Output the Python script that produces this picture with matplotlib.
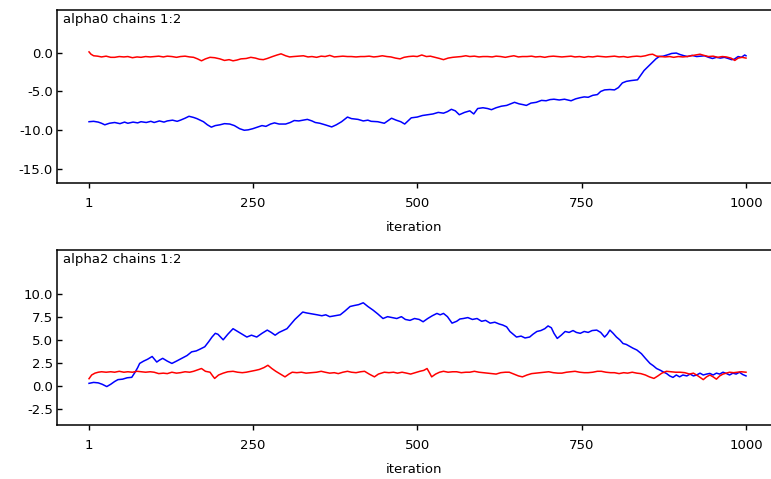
import matplotlib
matplotlib.use("Agg")
import matplotlib.pyplot as plt
from matplotlib.ticker import FormatStrFormatter

# ---------------- data ----------------
x_ticks = [1, 250, 500, 750, 1000]
a0_yticks = [-15.0, -10.0, -5.0, 0.0]
a2_yticks = [-2.5, 0.0, 2.5, 5.0, 7.5, 10.0]

a0_blue_iter = [1, 8, 15, 20, 25, 32, 40, 48, 55, 60, 68, 75, 80, 88, 95, 100, 108, 115, 120, 128,
                135, 140, 147, 153, 160, 165, 170, 175, 181, 187, 193, 200, 207, 215, 222, 230, 237,
                243, 250, 257, 264, 270, 277, 283, 290, 300, 307, 313, 320, 327, 333, 340, 345, 352,
                360, 370, 377, 385, 394, 400, 410, 418, 425, 430, 440, 450, 455, 461, 468, 475, 481,
                486, 491, 500, 508, 516, 524, 532, 540, 546, 552, 558, 564, 572, 580, 586, 592, 600,
                607, 613, 620, 628, 636, 642, 648, 655, 661, 666, 673, 681, 689, 696, 702, 708, 716,
                724, 734, 741, 748, 754, 760, 767, 774, 779, 785, 793, 800, 806, 812, 818, 825, 835,
                840, 845, 851, 858, 863, 868, 874, 880, 887, 894, 900, 906, 911, 918, 925, 931, 937,
                943, 949, 955, 961, 967, 973, 978, 982, 988, 993, 998, 1000]
a0_blue = [-8.9, -8.85, -8.95, -9.1, -9.3, -9.1, -9.0, -9.15, -8.95, -9.1, -8.95, -9.05, -8.9, -9.0,
           -8.85, -9.0, -8.8, -8.95, -8.8, -8.7, -8.85, -8.7, -8.45, -8.2, -8.35, -8.5, -8.7, -8.9,
           -9.3, -9.6, -9.4, -9.3, -9.15, -9.2, -9.4, -9.8, -10.0, -9.95, -9.8, -9.6, -9.4, -9.5,
           -9.2, -9.05, -9.2, -9.2, -9.0, -8.75, -8.8, -8.7, -8.6, -8.8, -9.0, -9.1, -9.3, -9.57,
           -9.3, -8.9, -8.3, -8.5, -8.6, -8.8, -8.7, -8.85, -8.9, -9.1, -8.8, -8.45, -8.7, -8.9,
           -9.2, -8.8, -8.4, -8.3, -8.1, -8.0, -7.9, -7.7, -7.8, -7.6, -7.3, -7.5, -8.0, -7.7, -7.5,
           -7.9, -7.2, -7.1, -7.2, -7.35, -7.1, -6.9, -6.8, -6.6, -6.4, -6.6, -6.7, -6.8, -6.5,
           -6.4, -6.15, -6.2, -6.05, -6.0, -6.1, -6.0, -6.2, -5.95, -5.8, -5.7, -5.75, -5.5, -5.4,
           -5.0, -4.8, -4.75, -4.8, -4.5, -3.9, -3.7, -3.6, -3.5, -2.9, -2.3, -1.8, -1.2, -0.8,
           -0.5, -0.45, -0.3, -0.1, -0.05, -0.25, -0.4, -0.5, -0.35, -0.5, -0.45, -0.4, -0.6,
           -0.75, -0.6, -0.7, -0.6, -0.75, -0.9, -0.85, -0.5, -0.6, -0.3, -0.4]

a0_red_iter = [1, 4, 8, 14, 20, 27, 34, 40, 47, 54, 60, 67, 74, 80, 87, 94, 100, 107, 114, 120, 127,
               134, 140, 147, 154, 160, 166, 172, 178, 185, 192, 200, 207, 214, 220, 226, 232, 240,
               247, 254, 260, 266, 272, 280, 287, 293, 300, 306, 312, 320, 327, 334, 340, 347, 354,
               360, 367, 374, 380, 387, 394, 400, 407, 414, 420, 427, 434, 440, 447, 454, 460, 467,
               474, 480, 487, 494, 500, 507, 514, 520, 527, 534, 540, 547, 554, 560, 567, 574, 580,
               587, 594, 600, 607, 614, 620, 627, 634, 640, 647, 654, 660, 667, 674, 680, 687, 694,
               700, 707, 714, 720, 727, 734, 740, 747, 754, 760, 767, 774, 780, 787, 794, 800, 807,
               814, 820, 827, 834, 840, 847, 853, 858, 864, 870, 877, 884, 890, 897, 904, 910, 917,
               924, 930, 936, 943, 950, 957, 964, 970, 977, 983, 988, 994, 1000]
a0_red = [0.1, -0.2, -0.4, -0.45, -0.55, -0.45, -0.6, -0.6, -0.5, -0.55, -0.5, -0.65, -0.55, -0.6,
          -0.5, -0.55, -0.5, -0.45, -0.55, -0.45, -0.5, -0.6, -0.5, -0.45, -0.55, -0.6, -0.8, -1.05,
          -0.8, -0.6, -0.65, -0.8, -1.0, -0.9, -1.05, -0.95, -0.8, -0.75, -0.6, -0.7, -0.85, -0.9,
          -0.75, -0.5, -0.3, -0.15, -0.4, -0.55, -0.5, -0.45, -0.4, -0.55, -0.5, -0.6, -0.45, -0.5,
          -0.35, -0.55, -0.5, -0.45, -0.5, -0.5, -0.55, -0.5, -0.5, -0.45, -0.55, -0.5, -0.4, -0.5,
          -0.55, -0.7, -0.8, -0.6, -0.5, -0.45, -0.5, -0.3, -0.5, -0.45, -0.6, -0.75, -0.9, -0.7,
          -0.6, -0.55, -0.5, -0.4, -0.5, -0.45, -0.55, -0.5, -0.5, -0.55, -0.45, -0.5, -0.6, -0.5,
          -0.4, -0.55, -0.5, -0.5, -0.45, -0.55, -0.5, -0.6, -0.5, -0.45, -0.5, -0.55, -0.5, -0.45,
          -0.55, -0.5, -0.6, -0.5, -0.55, -0.45, -0.5, -0.55, -0.5, -0.45, -0.55, -0.5, -0.6, -0.5,
          -0.45, -0.5, -0.4, -0.25, -0.2, -0.45, -0.5, -0.55, -0.5, -0.6, -0.5, -0.55, -0.5, -0.4,
          -0.3, -0.2, -0.35, -0.5, -0.45, -0.6, -0.5, -0.55, -0.7, -1.0, -0.7, -0.6, -0.7]

a2_blue_iter = [1, 8, 15, 21, 28, 34, 40, 45, 52, 59, 66, 71, 75, 78, 84, 90, 97, 104, 108, 113, 120,
                127, 134, 142, 150, 157, 164, 170, 177, 183, 188, 193, 197, 201, 205, 212, 220, 227,
                234, 241, 248, 256, 264, 272, 278, 284, 290, 296, 302, 308, 314, 320, 326, 332, 340,
                348, 355, 361, 367, 375, 383, 390, 398, 404, 411, 418, 425, 433, 440, 448, 455, 462,
                469, 476, 482, 489, 496, 503, 509, 516, 523, 530, 535, 540, 546, 553, 560, 565, 570,
                577, 584, 591, 598, 604, 611, 618, 625, 630, 636, 641, 646, 651, 658, 664, 671, 676,
                682, 688, 694, 699, 704, 708, 713, 719, 725, 731, 737, 742, 748, 754, 760, 766, 773,
                779, 785, 789, 793, 798, 803, 808, 813, 818, 823, 828, 834, 841, 847, 854, 859, 864,
                870, 875, 879, 884, 889, 894, 899, 904, 910, 915, 920, 925, 930, 935, 940, 945, 950,
                955, 960, 965, 970, 975, 980, 985, 990, 995, 1000]
a2_blue = [0.3, 0.4, 0.35, 0.2, -0.05, 0.2, 0.5, 0.7, 0.75, 0.9, 0.95, 1.5, 2.0, 2.45, 2.7, 2.9, 3.2,
           2.6, 2.8, 3.0, 2.7, 2.45, 2.7, 3.0, 3.3, 3.7, 3.8, 4.0, 4.25, 4.8, 5.3, 5.7, 5.6, 5.3, 5.0,
           5.6, 6.2, 5.9, 5.6, 5.3, 5.5, 5.3, 5.7, 6.05, 5.8, 5.5, 5.8, 6.0, 6.2, 6.7, 7.2, 7.6, 8.0,
           7.9, 7.8, 7.7, 7.6, 7.7, 7.5, 7.6, 7.7, 8.1, 8.6, 8.7, 8.8, 9.0, 8.6, 8.2, 7.8, 7.3, 7.5,
           7.4, 7.3, 7.5, 7.2, 7.1, 7.3, 7.2, 6.95, 7.3, 7.6, 7.85, 7.7, 7.85, 7.5, 6.8, 7.0, 7.25,
           7.3, 7.4, 7.2, 7.3, 7.0, 7.1, 6.8, 6.9, 6.7, 6.6, 6.4, 5.9, 5.6, 5.3, 5.4, 5.2, 5.3, 5.6,
           5.9, 6.0, 6.2, 6.5, 6.3, 5.7, 5.15, 5.5, 5.9, 5.8, 6.0, 5.8, 5.7, 5.9, 5.8, 6.0, 6.05,
           5.8, 5.3, 5.6, 6.05, 5.7, 5.3, 5.0, 4.6, 4.5, 4.3, 4.1, 3.9, 3.5, 3.0, 2.45, 2.2, 1.9,
           1.7, 1.5, 1.37, 1.1, 0.94, 1.2, 1.0, 1.2, 1.1, 1.3, 1.1, 1.2, 1.4, 1.2, 1.3, 1.37, 1.2,
           1.4, 1.3, 1.5, 1.37, 1.2, 1.4, 1.3, 1.5, 1.25, 1.1]

a2_red_iter = [1, 5, 10, 15, 20, 27, 34, 40, 47, 54, 60, 67, 74, 80, 87, 94, 100, 107, 114, 120, 127,
               134, 140, 147, 154, 160, 166, 172, 178, 185, 189, 192, 198, 205, 212, 220, 227, 234,
               240, 247, 254, 260, 267, 273, 279, 285, 292, 299, 305, 310, 317, 324, 331, 340, 347,
               354, 360, 367, 374, 380, 387, 394, 400, 407, 414, 420, 427, 435, 441, 450, 457, 464,
               470, 477, 484, 490, 497, 504, 510, 515, 519, 522, 528, 534, 540, 547, 554, 560, 567,
               574, 580, 587, 594, 600, 607, 614, 620, 627, 634, 640, 647, 654, 660, 667, 674, 680,
               687, 694, 700, 707, 714, 720, 727, 734, 740, 747, 754, 760, 767, 774, 780, 787, 794,
               800, 807, 814, 820, 827, 834, 840, 847, 853, 860, 866, 872, 879, 886, 893, 900, 907,
               914, 920, 927, 935, 940, 945, 950, 955, 960, 965, 970, 975, 981, 987, 993, 1000]
a2_red = [0.8, 1.2, 1.4, 1.5, 1.55, 1.5, 1.55, 1.5, 1.6, 1.5, 1.55, 1.5, 1.6, 1.55, 1.5, 1.55, 1.5,
          1.35, 1.4, 1.35, 1.5, 1.4, 1.45, 1.55, 1.5, 1.6, 1.75, 1.9, 1.6, 1.5, 1.1, 0.83, 1.2, 1.4,
          1.55, 1.6, 1.5, 1.45, 1.5, 1.6, 1.7, 1.8, 2.0, 2.25, 1.9, 1.6, 1.3, 1.0, 1.3, 1.5, 1.45,
          1.5, 1.4, 1.45, 1.5, 1.6, 1.5, 1.4, 1.45, 1.35, 1.5, 1.6, 1.5, 1.45, 1.55, 1.6, 1.3, 1.0,
          1.3, 1.5, 1.45, 1.5, 1.4, 1.5, 1.4, 1.3, 1.45, 1.6, 1.7, 1.9, 1.4, 1.0, 1.3, 1.5, 1.6,
          1.5, 1.55, 1.55, 1.45, 1.5, 1.5, 1.6, 1.5, 1.45, 1.4, 1.35, 1.3, 1.45, 1.5, 1.5, 1.3, 1.1,
          1.0, 1.2, 1.35, 1.4, 1.45, 1.5, 1.55, 1.45, 1.4, 1.4, 1.5, 1.55, 1.6, 1.5, 1.45, 1.45,
          1.5, 1.6, 1.6, 1.5, 1.45, 1.45, 1.35, 1.45, 1.4, 1.5, 1.4, 1.35, 1.2, 1.0, 0.83, 1.1, 1.4,
          1.6, 1.55, 1.5, 1.5, 1.45, 1.3, 1.4, 1.1, 0.7, 1.0, 1.2, 1.0, 0.75, 1.1, 1.3, 1.4, 1.5,
          1.45, 1.5, 1.55, 1.5]

titles = ["alpha0 chains 1:2", "alpha2 chains 1:2"]
xlabel = "iteration"

# ---------------- figure ----------------
plt.rcParams['font.family'] = ['DejaVu Sans']
FS = 9.5
W, H = 771, 479
fig = plt.figure(figsize=(W / 100, H / 100), dpi=100)


def make_axes(top_px, bottom_px):
    left_px, right_px = 57, 771
    return fig.add_axes([left_px / W, 1 - bottom_px / H,
                         (right_px - left_px) / W, (bottom_px - top_px) / H])


panels = [
    (make_axes(10, 183), a0_blue_iter, a0_blue, a0_red_iter, a0_red, a0_yticks, (-16.8, 5.5), titles[0]),
    (make_axes(250, 425), a2_blue_iter, a2_blue, a2_red_iter, a2_red, a2_yticks, (-4.2, 14.7), titles[1]),
]

for ax, bi, bv, ri, rv, yt, ylim, title in panels:
    ax.plot(bi, bv, color='#0000ff', lw=1.1)
    ax.plot(ri, rv, color='#ff0000', lw=1.1)
    ax.set_xlim(-47.7, 1038)
    ax.set_ylim(*ylim)
    ax.set_xticks(x_ticks)
    ax.set_xticklabels([str(t) for t in x_ticks])
    ax.set_yticks(yt)
    ax.yaxis.set_major_formatter(FormatStrFormatter('%.1f'))
    ax.tick_params(axis='x', direction='out', length=3.6, width=1.0, pad=6.5, labelsize=FS)
    ax.tick_params(axis='y', direction='in', length=3.6, width=1.0, pad=2.8, labelsize=FS)
    for s in ['top', 'left', 'bottom']:
        ax.spines[s].set_linewidth(1.1)
        ax.spines[s].set_color('black')
    ax.spines['right'].set_visible(False)
    ax.set_xlabel(xlabel, fontsize=FS, labelpad=8)
    ax.text(6 / 714, 0.985, title, transform=ax.transAxes, ha='left', va='top', fontsize=FS)

fig.savefig("out.png", dpi=100)
